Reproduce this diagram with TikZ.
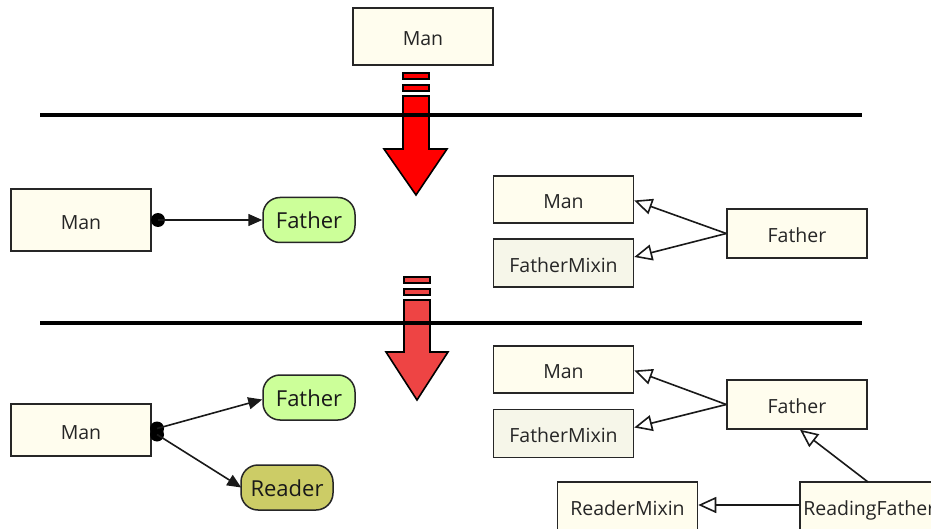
\documentclass[tikz,border=0pt]{standalone}
\usepackage{fontspec}
\setmainfont{Open Sans}
\usetikzlibrary{arrows.meta,calc}
\definecolor{cream}{HTML}{FFFDEE}
\definecolor{mixin}{HTML}{F6F6E9}
\definecolor{pillgreen}{HTML}{CCFF99}
\definecolor{pillolive}{HTML}{CCCC66}
\definecolor{redA}{HTML}{FF0000}
\definecolor{redB}{HTML}{EE4444}
\tikzset{
  cls/.style={draw=black!85,line width=1.5pt,fill=cream,minimum width=140pt,minimum height=48pt,inner sep=0pt,font=\fontsize{19.5}{23}\selectfont,text=black!85,text height=18.5pt,text depth=0pt},
  mix/.style={cls,fill=mixin},
  pill/.style={draw=black!85,line width=1.5pt,rounded corners=17pt,minimum width=92pt,minimum height=45pt,inner sep=0pt,font=\fontsize{22}{26}\selectfont,text=black!90,text height=17.5pt,text depth=0pt},
  inh/.style={line width=1.6pt,black!90,-{Triangle[open,length=18pt,width=16pt,fill=white]}},
  assoc/.style={line width=1.6pt,black!90,-{Triangle[length=14pt,width=12pt]}},
  sep/.style={line width=3.5pt,black},
  bigarrow/.style={draw=black,line width=1.6pt,line join=miter},
}
\begin{document}
\begin{tikzpicture}[x=1pt,y=-1pt]
\useasboundingbox (0,0) rectangle (931,529);
\fill[white] (0,0) rectangle (931,529);

% top
\node[cls,minimum height=57pt] (man0) at (423,36.5) {Man};

% red arrow 1
\draw[bigarrow,fill=redA] (403,73) rectangle (429,79);
\draw[bigarrow,fill=redA] (403,85) rectangle (429,91);
\draw[bigarrow,fill=redA] (403,96) -- (429,96) -- (429,149) -- (447,149) -- (416,195) -- (384,149) -- (403,149) -- cycle;
\coordinate (l1a) at (40,115);
\coordinate (l1b) at (862,115);
\draw[sep] (l1a) -- (l1b);

% section 1 left
\node[cls,minimum height=62pt] (man1) at (81,220) {Man};
\node[pill,fill=pillgreen] (fa1) at (309,220) {Father};
\coordinate (d1) at (158,220);
\fill[black] (d1) circle (7pt);
\draw[assoc] (d1) -- (fa1.west);

% section 1 right
\node[cls,minimum height=47pt] (mr1) at (563.5,199.5) {Man};
\node[mix] (fm1) at (563.5,263) {FatherMixin};
\node[cls,minimum height=49pt] (fr1) at (797,233.5) {Father};
\draw[inh] (fr1.west) -- ([yshift=-1pt]mr1.east);
\draw[inh] (fr1.west) -- ([yshift=6pt]fm1.east);

% red arrow 2
\draw[bigarrow,fill=redB] (404,277) rectangle (430,283);
\draw[bigarrow,fill=redB] (404,289) rectangle (430,295);
\draw[bigarrow,fill=redB] (404,300) -- (430,300) -- (430,352) -- (448,352) -- (417,400) -- (386,352) -- (404,352) -- cycle;
\coordinate (l2a) at (40,323);
\coordinate (l2b) at (862,323);
\draw[sep] (l2a) -- (l2b);

% section 2 left
\node[cls,minimum height=52pt] (man2) at (81,430) {Man};
\node[pill,fill=pillgreen] (fa2) at (309,397.5) {Father};
\node[pill,fill=pillolive] (rd2) at (287,487.5) {Reader};
\coordinate (d2a) at (157,428.5);
\coordinate (d2b) at (157,434.5);
\fill[black] (d2a) circle (7pt);
\fill[black] (d2b) circle (7pt);
\draw[assoc] (d2a) -- ([yshift=-2pt]fa2.west);
\draw[assoc] (d2b) -- ([xshift=1pt]rd2.west);

% section 2 right
\node[cls,minimum height=47pt] (mr2) at (563.5,369.5) {Man};
\node[mix] (fm2) at (563.5,433.5) {FatherMixin};
\node[cls,minimum height=49pt] (fr2) at (797,404.5) {Father};
\draw[inh] (fr2.west) -- ([yshift=-1pt]mr2.east);
\draw[inh] (fr2.west) -- ([yshift=6pt]fm2.east);

\node[cls] (rm) at (627.5,506) {ReaderMixin};
\node[cls,anchor=west,minimum width=0pt,inner xsep=3.5pt] (rf) at (799,506) {ReadingFather};
\coordinate (rftop) at (868,482);
\draw[inh] (rftop) -- ([xshift=3pt]fr2.south);
\draw[inh] (rf.west |- 0,505) -- (rm.east |- 0,505);
\end{tikzpicture}
\end{document}
